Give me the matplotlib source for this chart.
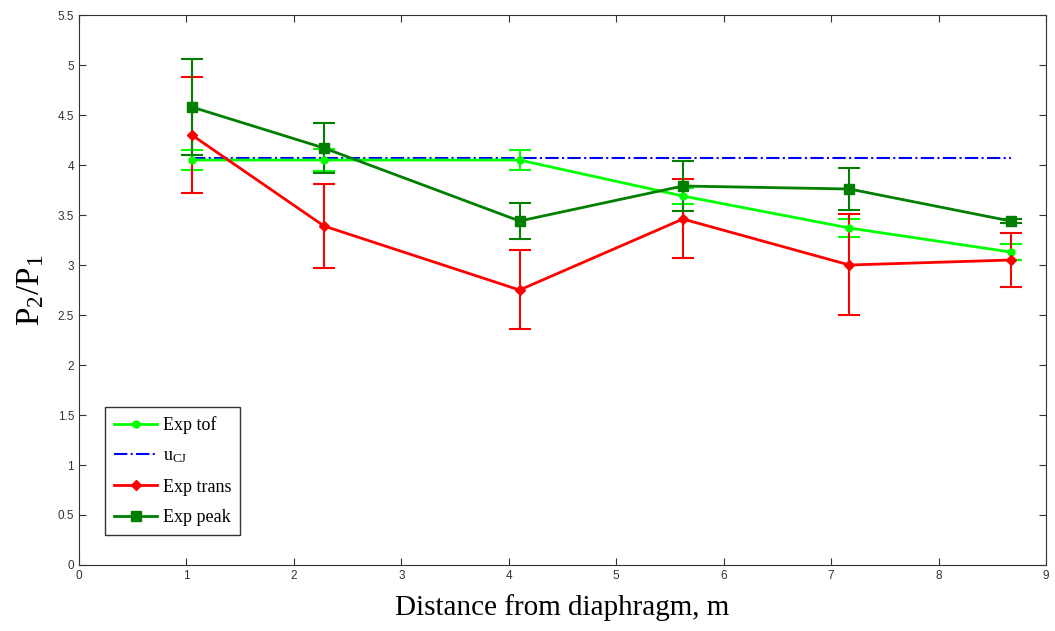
import matplotlib
matplotlib.use("Agg")
import matplotlib.pyplot as plt
from matplotlib.lines import Line2D

plt.rcParams['mathtext.fontset'] = 'custom'
plt.rcParams['mathtext.rm'] = 'Liberation Serif'
plt.rcParams['mathtext.it'] = 'Liberation Serif'

# distances from diaphragm, m
x = [1.05, 2.28, 4.10, 5.62, 7.17, 8.67]

tof = [4.05, 4.05, 4.05, 3.69, 3.37, 3.13]
tof_err = [0.10, 0.11, 0.10, 0.08, 0.09, 0.08]

ucj_x = [1.05, 8.67]
ucj = [4.07, 4.07]

trans = [4.30, 3.39, 2.75, 3.46, 3.00, 3.05]
trans_lo = [0.58, 0.42, 0.39, 0.39, 0.50, 0.27]
trans_hi = [0.58, 0.42, 0.40, 0.40, 0.51, 0.27]

peak = [4.58, 4.17, 3.44, 3.79, 3.76, 3.44]
peak_err = [0.48, 0.25, 0.18, 0.25, 0.21, 0.02]

c_tof, c_ucj, c_trans, c_peak = '#00ff00', '#0000ff', '#ff0000', '#007f00'

fig = plt.figure(figsize=(10.55, 6.31), dpi=100)
ax = fig.add_axes([0.0749, 0.1046, 0.9166, 0.8716])

ax.errorbar(x, tof, yerr=tof_err, color=c_tof, marker='o', markersize=5,
            linewidth=2, capsize=8, elinewidth=1.5, capthick=1.5)
ax.plot(ucj_x, ucj, color=c_ucj, linestyle='-.', linewidth=1.5)
ax.errorbar(x, trans, yerr=[trans_lo, trans_hi], color=c_trans, marker='D', markersize=5,
            linewidth=2, capsize=8, elinewidth=1.5, capthick=1.5)
ax.errorbar(x, peak, yerr=peak_err, color=c_peak, marker='s', markersize=7,
            linewidth=2, capsize=8, elinewidth=1.5, capthick=1.5)

ax.set_xlim(0, 9)
ax.set_ylim(0, 5.5)
ax.set_xticks(range(0, 10))
ax.set_yticks([i * 0.5 for i in range(12)])
ax.set_yticklabels(['0', '0.5', '1', '1.5', '2', '2.5', '3', '3.5', '4', '4.5', '5', '5.5'])
ax.tick_params(direction='in', top=True, right=True, labelsize=8.5, length=5,
               labelfontfamily='Liberation Sans', colors='#333333')
for s in ax.spines.values():
    s.set_color('#333333')

ax.set_xlabel('Distance from diaphragm, m', fontsize=21, family='Liberation Serif', labelpad=9)
ax.set_ylabel(r'$\mathrm{P_2/P_1}$', fontsize=24, labelpad=8)

handles = [
    Line2D([], [], color=c_tof, marker='o', markersize=5, linewidth=2),
    Line2D([], [], color=c_ucj, linestyle='-.', linewidth=1.5),
    Line2D([], [], color=c_trans, marker='D', markersize=5, linewidth=2),
    Line2D([], [], color=c_peak, marker='s', markersize=7, linewidth=2),
]
labels = ['Exp tof', 'u$_{\\mathrm{CJ}}$', 'Exp trans', 'Exp peak']
leg = ax.legend(handles, labels, loc='lower left', bbox_to_anchor=(0.027, 0.054),
                fancybox=False, edgecolor='black',
                prop={'family': 'Liberation Serif', 'size': 13},
                handlelength=2.4, handletextpad=0.3, borderpad=0.5,
                labelspacing=0.75, borderaxespad=0)
leg.get_frame().set_linewidth(1)

fig.savefig('out.png', dpi=100)
